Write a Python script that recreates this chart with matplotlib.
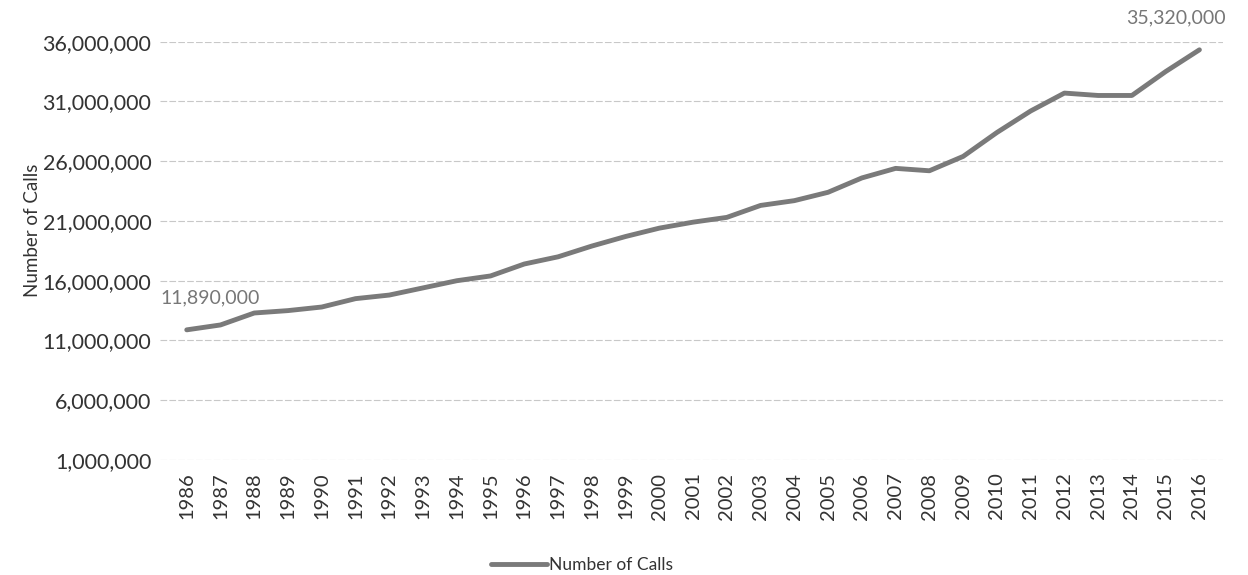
import matplotlib.pyplot as plt
from matplotlib.ticker import FuncFormatter

plt.rcParams["font.family"] = ["Lato", "DejaVu Sans"]

# Data
years = list(range(1986, 2017))
calls = [11890000, 12300000, 13300000, 13500000, 13800000, 14500000, 14800000,
         15400000, 16000000, 16400000, 17400000, 18000000, 18900000, 19700000,
         20400000, 20900000, 21300000, 22300000, 22700000, 23400000, 24600000,
         25400000, 25200000, 26400000, 28400000, 30200000, 31700000, 31500000,
         31500000, 33500000, 35320000]
y_ticks = [1000000, 6000000, 11000000, 16000000, 21000000, 26000000, 31000000, 36000000]

fig = plt.figure(figsize=(12.48, 5.75), dpi=100)
ax = fig.add_axes([0.128, 0.2, 0.852, 0.7275])

ax.plot(years, calls, color="#7a7a7a", linewidth=3.5, label="Number of Calls",
        solid_capstyle="round")

ax.set_xlim(1985.2, 2016.7)
ax.set_ylim(1000000, 36000000)
ax.set_yticks(y_ticks)
ax.yaxis.set_major_formatter(FuncFormatter(lambda v, p: f"{int(v):,}"))
ax.set_xticks(years)
ax.set_xticklabels([str(y) for y in years], rotation=90)

ax.grid(axis="y", color="#c8c8c8", linewidth=0.8, linestyle=(0, (6, 2)))
ax.set_axisbelow(True)
for s in ax.spines.values():
    s.set_visible(False)
ax.tick_params(length=0, colors="#333333")
ax.tick_params(axis="y", labelsize=15.5, pad=6)
ax.tick_params(axis="x", labelsize=14.5, pad=9)

ax.set_ylabel("Number of Calls", fontsize=13.5, color="#333333")
ax.yaxis.set_label_coords(-0.112, 0.55)

# first / last value labels
ax.annotate(f"{calls[0]:,}", (years[0], calls[0]), xytext=(17, 23),
            textcoords="offset points", fontsize=14, color="#777777",
            ha="center", va="center")
ax.annotate(f"{calls[-1]:,}", (years[-1], calls[-1]), xytext=(-17, 23),
            textcoords="offset points", fontsize=14, color="#777777",
            ha="center", va="center")

ax.legend(loc="center left", bbox_to_anchor=(0.312, -0.252), frameon=False,
          fontsize=12.5, handlelength=3.2, handletextpad=0.1, borderaxespad=0,
          borderpad=0, labelcolor="#333333")

fig.savefig("out.png", dpi=100)
